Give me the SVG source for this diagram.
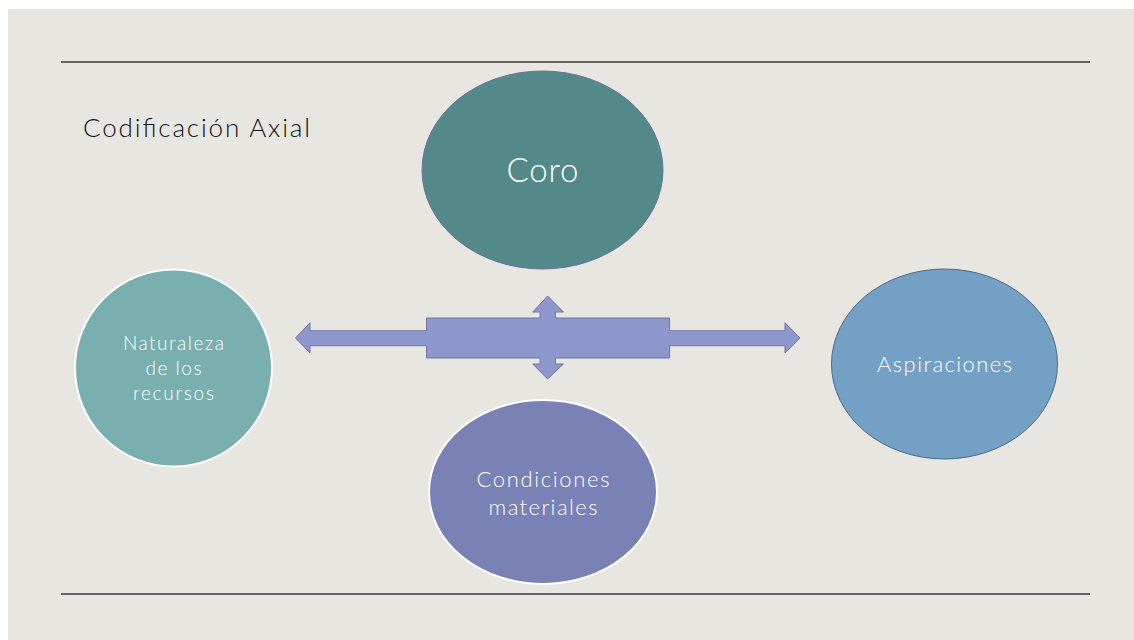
<svg xmlns="http://www.w3.org/2000/svg" width="1134" height="640" viewBox="0 0 1134 640">
<style>
.lbl{font-family:Lato,"Open Sans","Liberation Sans",sans-serif;font-weight:300;fill:#ffffff;text-anchor:middle}
.rule{stroke:#3a3a3a;stroke-width:1.3}
</style>
<rect x="0" y="0" width="1134" height="640" fill="#ffffff"/>
<rect x="8" y="9" width="1126" height="631" fill="#e7e6e1"/>
<line class="rule" x1="61" y1="62" x2="1090" y2="62"/>
<line class="rule" x1="61" y1="594" x2="1090" y2="594"/>
<text x="83" y="137" font-family="Lato,'Open Sans','Liberation Sans',sans-serif" font-weight="300" font-size="26" fill="#111111" textLength="227" lengthAdjust="spacing">Codificación Axial</text>
<g id="connectors">
<path d="M295.5,338 L310,322.7 L310,330.7 L426.5,330.7 L426.5,318 L540,318 L540,312 L532.8,312 L547.6,296 L563.4,312 L555.5,312 L555.5,318 L669.6,318 L669.6,330.7 L785,330.7 L785,322.7 L800,338 L785,353 L785,345.7 L669.6,345.7 L669.6,358 L555.5,358 L555.5,364 L563.4,364 L547.6,379 L532.8,364 L540,364 L540,358 L426.5,358 L426.5,345.7 L310,345.7 L310,353 Z" fill="#8e97cc" stroke="#6f77a8" stroke-width="1"/>
</g>
<g id="coro">
<ellipse cx="542.5" cy="170" rx="120.5" ry="99" fill="#54898a" stroke="#6b6fa0" stroke-width="1"/>
<text class="lbl" x="542.5" y="182" font-size="33" textLength="72" lengthAdjust="spacing">Coro</text>
</g>
<g id="naturaleza">
<circle cx="173.5" cy="368" r="98.5" fill="#79afaf" stroke="#ffffff" stroke-width="2"/>
<text class="lbl" font-size="19"><tspan x="173.5" y="350" textLength="101" lengthAdjust="spacing">Naturaleza</tspan><tspan x="173.5" y="375" textLength="56" lengthAdjust="spacing">de los</tspan><tspan x="173.5" y="400" textLength="81" lengthAdjust="spacing">recursos</tspan></text>
</g>
<g id="aspiraciones">
<ellipse cx="944.5" cy="364" rx="113" ry="95" fill="#73a0c4" stroke="#4d6b85" stroke-width="1"/>
<text class="lbl" x="944.5" y="372" font-size="22" textLength="135" lengthAdjust="spacing">Aspiraciones</text>
</g>
<g id="condiciones">
<ellipse cx="543" cy="492" rx="114" ry="92" fill="#7a81b5" stroke="#ffffff" stroke-width="2"/>
<text class="lbl" font-size="22"><tspan x="543" y="487" textLength="133" lengthAdjust="spacing">Condiciones</tspan><tspan x="543" y="515" textLength="109" lengthAdjust="spacing">materiales</tspan></text>
</g>
</svg>
